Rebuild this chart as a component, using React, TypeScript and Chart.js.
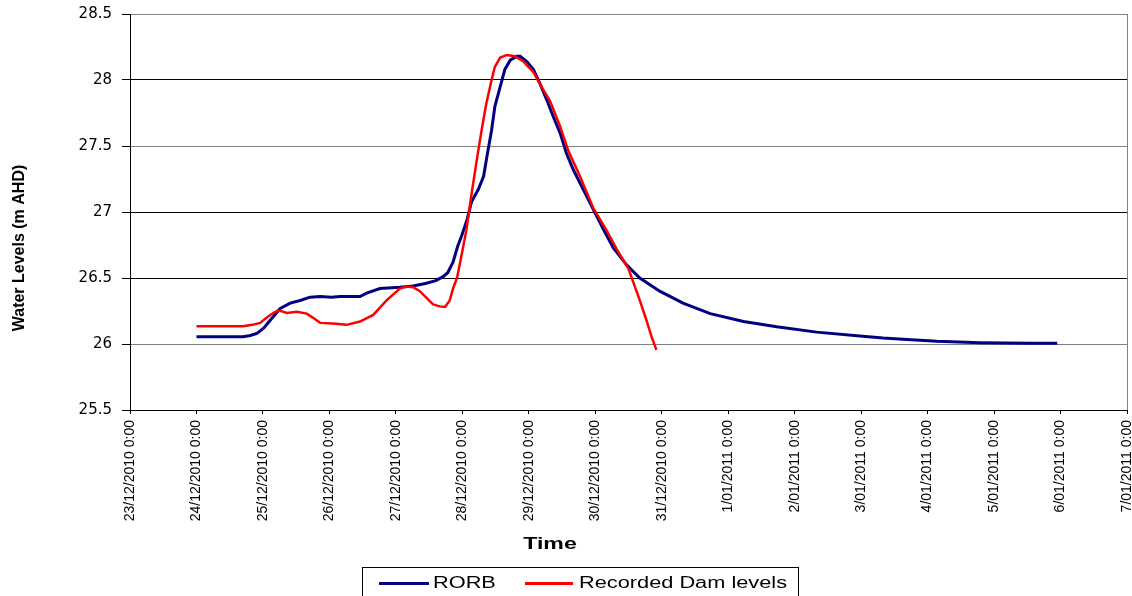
import React, { useEffect, useRef } from 'react';
import { Chart, registerables } from 'chart.js';

Chart.register(...registerables);

// X axis: days since 23/12/2010 0:00
const xTickLabels = [
  '23/12/2010 0:00', '24/12/2010 0:00', '25/12/2010 0:00', '26/12/2010 0:00',
  '27/12/2010 0:00', '28/12/2010 0:00', '29/12/2010 0:00', '30/12/2010 0:00',
  '31/12/2010 0:00', '1/01/2011 0:00', '2/01/2011 0:00', '3/01/2011 0:00',
  '4/01/2011 0:00', '5/01/2011 0:00', '6/01/2011 0:00', '7/01/2011 0:00',
];
const yTickValues = [25.5, 26, 26.5, 27, 27.5, 28, 28.5];
const yTickLabels = ['25.5', '26', '26.5', '27', '27.5', '28', '28.5'];

const seriesNames = ['RORB', 'Recorded Dam levels'];
const xAxisTitle = 'Time';
const yAxisTitle = 'Water Levels (m AHD)';

const rorbDays = [
  1.0, 1.7, 1.81, 1.91, 2.01, 2.11, 2.26, 2.41, 2.56, 2.71, 2.86, 3.03, 3.16, 3.46, 3.56,
  3.76, 4.06, 4.26, 4.46, 4.6, 4.71, 4.78, 4.86, 4.93, 4.99, 5.07, 5.14, 5.24, 5.32, 5.37,
  5.44, 5.49, 5.57, 5.64, 5.72, 5.82, 5.87, 5.97, 6.07, 6.17, 6.27, 6.37, 6.47, 6.57, 6.67,
  6.82, 6.97, 7.12, 7.27, 7.47, 7.67, 7.97, 8.32, 8.73, 9.23, 9.73, 10.33, 10.98, 11.33,
  11.69, 12.14, 12.79, 13.54, 13.95,
];
const rorbLevels = [
  26.055, 26.055, 26.065, 26.08, 26.12, 26.18, 26.27, 26.31, 26.33, 26.355, 26.36, 26.355, 26.36, 26.36, 26.385,
  26.42, 26.43, 26.44, 26.46, 26.48, 26.51, 26.54, 26.62, 26.74, 26.82, 26.94, 27.08, 27.17, 27.27, 27.42,
  27.62, 27.8, 27.95, 28.08, 28.15, 28.18, 28.18, 28.14, 28.08, 27.97, 27.85, 27.72, 27.6, 27.44, 27.32,
  27.17, 27.02, 26.87, 26.73, 26.6, 26.5, 26.4, 26.31, 26.23, 26.17, 26.13, 26.09, 26.06, 26.045,
  26.035, 26.02, 26.01, 26.005, 26.005,
];

const recordedDays = [
  1.0, 1.7, 1.84, 1.96, 2.03, 2.11, 2.21, 2.27, 2.36, 2.51, 2.66, 2.75, 2.86, 3.05, 3.26,
  3.46, 3.66, 3.86, 4.06, 4.15, 4.26, 4.36, 4.56, 4.66, 4.74, 4.81, 4.86, 4.92, 4.96, 5.06,
  5.14, 5.21, 5.29, 5.36, 5.44, 5.49, 5.57, 5.67, 5.79, 5.92, 6.07, 6.19, 6.32, 6.47, 6.59,
  6.77, 6.97, 7.17, 7.32, 7.5, 7.67, 7.77, 7.85, 7.92,
];
const recordedLevels = [
  26.135, 26.135, 26.145, 26.16, 26.19, 26.22, 26.25, 26.25, 26.235, 26.245, 26.23, 26.2, 26.16, 26.155, 26.145,
  26.17, 26.22, 26.33, 26.42, 26.435, 26.43, 26.4, 26.3, 26.285, 26.28, 26.33, 26.42, 26.5, 26.6, 26.86,
  27.14, 27.37, 27.62, 27.82, 28.0, 28.1, 28.17, 28.19, 28.18, 28.14, 28.06, 27.95, 27.84, 27.65, 27.47,
  27.27, 27.03, 26.86, 26.72, 26.57, 26.33, 26.18, 26.05, 25.955,
];

const yMin = 25.5;
const yMax = 28.5;
const yStep = 0.5;
const greyGridLevels = [28.5, 27.5, 26];

const BLUE = '#000080';
const RED = '#FF0000';

const overlayPlugin = {
  id: 'overlay',
  afterDraw(chart: any) {
    const ctx = chart.ctx as CanvasRenderingContext2D;
    const sx = 1.36;
    // x-axis title
    ctx.save();
    ctx.fillStyle = '#000';
    ctx.font = 'bold 17px "Liberation Sans", Arial, sans-serif';
    ctx.textAlign = 'center';
    ctx.textBaseline = 'alphabetic';
    ctx.translate(550, 549);
    ctx.scale(sx, 1);
    ctx.fillText(xAxisTitle, 0, 0);
    ctx.restore();

    // y-axis title
    ctx.save();
    ctx.fillStyle = '#000';
    ctx.font = 'bold 16px "Liberation Sans", Arial, sans-serif';
    ctx.textAlign = 'center';
    ctx.textBaseline = 'alphabetic';
    ctx.translate(24, 248);
    ctx.rotate(-Math.PI / 2);
    ctx.fillText(yAxisTitle, 0, 0);
    ctx.restore();

    // legend
    ctx.save();
    ctx.strokeStyle = '#000';
    ctx.lineWidth = 1;
    ctx.strokeRect(362.5, 567.5, 436, 40);
    const items = [
      { color: BLUE, x0: 379, x1: 429, tx: 433, text: seriesNames[0] },
      { color: RED, x0: 525, x1: 573, tx: 579, text: seriesNames[1] },
    ];
    ctx.font = '16px "Liberation Sans", Arial, sans-serif';
    ctx.textAlign = 'left';
    ctx.textBaseline = 'alphabetic';
    for (const it of items) {
      ctx.strokeStyle = it.color;
      ctx.lineWidth = 3;
      ctx.beginPath();
      ctx.moveTo(it.x0, 583.5);
      ctx.lineTo(it.x1, 583.5);
      ctx.stroke();
      ctx.save();
      ctx.fillStyle = '#000';
      ctx.translate(it.tx, 588);
      ctx.scale(sx, 1);
      ctx.fillText(it.text, 0, 0);
      ctx.restore();
    }
    ctx.restore();
  },
};

export default function App() {
  const canvasRef = useRef<HTMLCanvasElement | null>(null);

  useEffect(() => {
    document.body.style.margin = '0';
    const canvas = canvasRef.current;
    if (!canvas) return;
    const chart = new Chart(canvas, {
      type: 'line',
      data: {
        datasets: [
          {
            label: seriesNames[0],
            data: rorbDays.map((d, i) => ({ x: d, y: rorbLevels[i] })),
            borderColor: BLUE,
            backgroundColor: BLUE,
            borderWidth: 3,
            pointRadius: 0,
            tension: 0,
            fill: false,
            order: 1,
          },
          {
            label: seriesNames[1],
            data: recordedDays.map((d, i) => ({ x: d, y: recordedLevels[i] })),
            borderColor: RED,
            backgroundColor: RED,
            borderWidth: 2.5,
            pointRadius: 0,
            tension: 0,
            fill: false,
            order: 0,
          },
        ],
      },
      options: {
        responsive: false,
        animation: false,
        devicePixelRatio: 1,
        layout: { padding: { top: 14, right: 5, left: 0, bottom: 0 } },
        plugins: {
          legend: { display: false },
          title: { display: false },
          tooltip: { enabled: false },
        },
        scales: {
          x: {
            type: 'linear',
            min: 0,
            max: xTickLabels.length - 1,
            afterFit: (s: any) => {
              s.height = 186;
              s.paddingLeft = 0;
              s.paddingRight = 0;
            },
            border: { display: true, color: '#000', width: 1 },
            grid: {
              drawOnChartArea: true,
              drawTicks: true,
              tickLength: 4,
              tickColor: '#000',
              color: (c: any) => (c.index === xTickLabels.length - 1 ? '#808080' : 'rgba(0,0,0,0)'),
            },
            ticks: {
              stepSize: 1,
              autoSkip: false,
              maxRotation: 90,
              minRotation: 90,
              padding: 6,
              color: '#000',
              font: { family: '"Liberation Sans", Arial, sans-serif', size: 14 },
              callback: (v: any) => xTickLabels[Math.round(Number(v))] ?? '',
            },
          },
          y: {
            type: 'linear',
            min: yMin,
            max: yMax,
            afterFit: (s: any) => {
              s.width = 130;
              s.paddingTop = 0;
              s.paddingBottom = 0;
            },
            border: { display: true, color: '#000', width: 1 },
            grid: {
              drawOnChartArea: true,
              drawTicks: true,
              tickLength: 8,
              tickColor: '#000',
              color: (c: any) =>
                c.tick && greyGridLevels.some((g) => Math.abs(g - c.tick.value) < 1e-6) ? '#808080' : '#000000',
            },
            ticks: {
              stepSize: yStep,
              padding: 10,
              color: '#000',
              font: { family: '"DejaVu Sans", sans-serif', size: 15 },
              callback: (v: any) => {
                const i = yTickValues.findIndex((t) => Math.abs(t - Number(v)) < 1e-6);
                return i >= 0 ? yTickLabels[i] : '';
              },
            },
          },
        },
      },
      plugins: [overlayPlugin],
    } as any);
    return () => chart.destroy();
  }, []);

  return (
    <div style={{ width: 1132, height: 596, position: 'relative', background: '#fff' }}>
      <canvas ref={canvasRef} width={1132} height={596} style={{ display: 'block' }} />
    </div>
  );
}
